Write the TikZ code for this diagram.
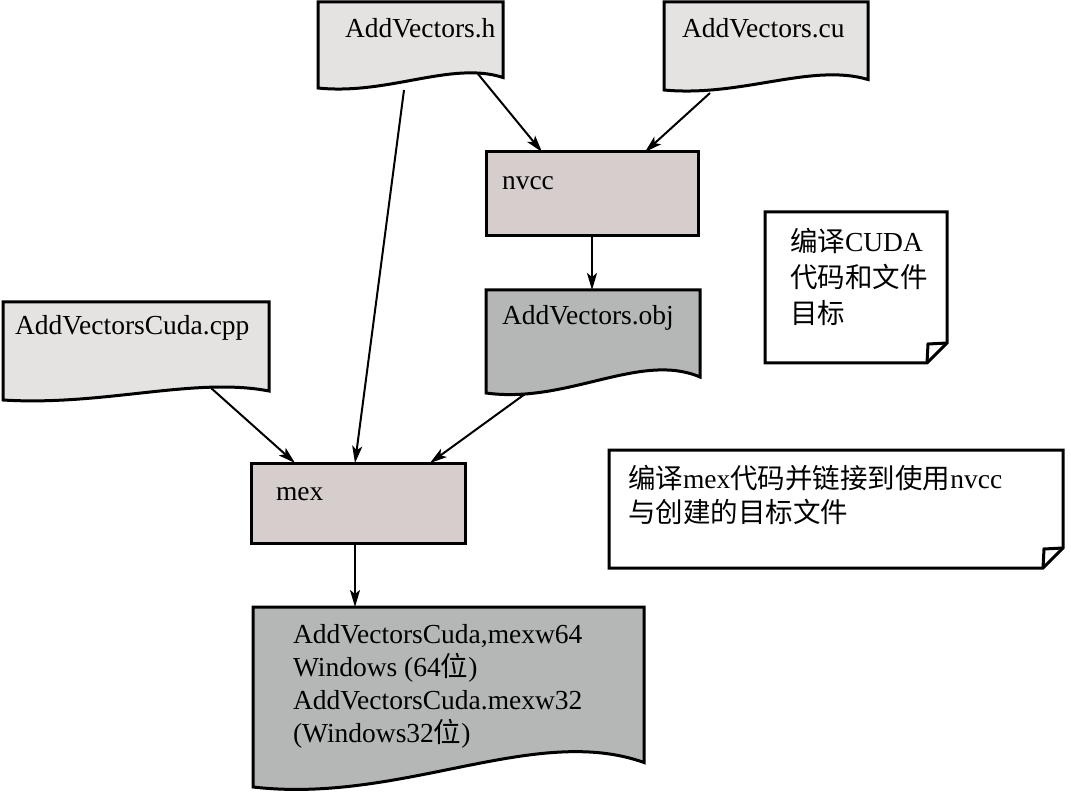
\documentclass[tikz,border=0pt]{standalone}
\usepackage{fontspec}
\setmainfont{Liberation Serif}
\newfontfamily\cjk{Noto Sans CJK SC}
\newcommand\zh[1]{{\cjk #1}}
\newcommand\txtlines[1]{\begin{tabular}[t]{@{}l@{}}#1\end{tabular}}
\usetikzlibrary{arrows.meta,calc}
\definecolor{docA}{RGB}{229,227,226}
\definecolor{procB}{RGB}{214,206,205}
\definecolor{docC}{RGB}{181,182,182}
\tikzset{
  geom/.style={draw=none, inner sep=0pt, outer sep=0pt, rectangle},
  shapeline/.style={draw=black, line width=3pt, line join=miter},
  procbox/.style={rectangle, shapeline, fill=procB, inner sep=0pt, outer sep=0pt},
  lbl/.style={inner sep=0pt, outer sep=0pt, anchor=base west, font=\fontsize{27.5}{33}\selectfont},
  arr/.style={line width=2pt, -{Stealth[length=17pt,width=10pt,inset=4pt]}},
}
% document shape with wavy bottom: node, width, amplitude, fill
\newcommand\docshape[4]{%
  \path[shapeline, fill=#4]
    (#1.north west) -- (#1.north east) -- ([yshift={#3*0.5pt}]#1.south east)
    .. controls ([xshift={-#2*0.28pt}, yshift={#3*1.3pt}]#1.south east)
    and ([xshift={#2*0.38pt}, yshift={-#3*0.35pt}]#1.south west)
    .. (#1.south west) -- cycle;}
% note shape with folded corner
\newcommand\noteshape[1]{%
  \path[shapeline, fill=white]
    (#1.north west) -- (#1.north east) -- ([yshift=20pt]#1.south east)
    -- ([xshift=-20pt]#1.south east) -- (#1.south west) -- cycle;
  \path[shapeline]
    ([xshift=-20pt]#1.south east) -- ([xshift=-19pt,yshift=19pt]#1.south east)
    -- ([yshift=20pt]#1.south east);}
\begin{document}
\begin{tikzpicture}[x=1pt,y=-1pt]
\useasboundingbox[fill=white] (0,0) rectangle (1071,799);

% geometry of shapes
\node[geom, minimum width=185pt, minimum height=86pt] (h)   at (410.5,45) {};
\node[geom, minimum width=204pt, minimum height=88pt] (cu)  at (766,46) {};
\node[geom, minimum width=214pt, minimum height=103pt] (obj) at (593,341.5) {};
\node[geom, minimum width=266pt, minimum height=98pt] (cpp) at (136,351) {};
\node[geom, minimum width=391pt, minimum height=180pt] (out) at (448.5,697) {};
\node[geom, minimum width=182pt, minimum height=151pt] (n1) at (856,287.5) {};
\node[geom, minimum width=454pt, minimum height=118pt] (n2) at (836,509) {};

\docshape{h}{185}{21}{docA}
\docshape{cu}{204}{21}{docA}
\docshape{obj}{214}{32}{docC}
\docshape{cpp}{266}{18}{docA}
\docshape{out}{391}{49}{docC}
\noteshape{n1}
\noteshape{n2}

\node[procbox, minimum width=212pt, minimum height=84pt] (nvcc) at (592,194) {};
\node[procbox, minimum width=214pt, minimum height=80pt] (mex) at (358,503) {};

% texts
\node[lbl] (h-t)    at (345,38)  {AddVectors.h};
\node[lbl] (cu-t)   at (682,38)  {AddVectors.cu};
\node[lbl] (nvcc-t) at (502,190) {nvcc};
\node[lbl] (obj-t)  at (502,325) {AddVectors.obj};
\node[lbl] (cpp-t)  at (15,335)  {AddVectorsCuda.cpp};
\node[lbl] (mex-t)  at (276,500) {mex};
\node[lbl] (out-t)  at (293,643) {\txtlines{AddVectorsCuda,mexw64\\ Windows (64\zh{位})\\ AddVectorsCuda.mexw32\\ (Windows32\zh{位})}};
\node[lbl, font=\fontsize{27.5}{36}\selectfont] (n1-t) at (790,252)
  {\txtlines{\zh{编译}CUDA\\ \zh{代码和文件}\\ \zh{目标}}};
\node[lbl, font=\fontsize{27.5}{34}\selectfont] (n2-t) at (628,488)
  {\txtlines{\zh{编译}mex\zh{代码并链接到使用}nvcc\\ \zh{与创建的目标文件}}};

% connector start points on the wavy edges
\coordinate (hA)   at ([xshift=-6.5pt,yshift=-2pt]h.south);
\coordinate (hB)   at ([xshift=67.5pt,yshift=14pt]h.south);
\coordinate (cuA)  at ([xshift=-56pt,yshift=-3pt]cu.south);
\coordinate (cppA) at ([xshift=75pt,yshift=12pt]cpp.south);
\coordinate (objA) at ([xshift=-68pt,yshift=-1pt]obj.south);

\draw[arr] (hA) -- ([xshift=-3pt]mex.north);
\draw[arr] (hB) -- ([xshift=-50pt]nvcc.north);
\draw[arr] (cuA) -- ([xshift=53pt]nvcc.north);
\draw[arr] (nvcc.south) -- (nvcc.south |- obj.north);
\draw[arr] (cppA) -- ([xshift=-63pt]mex.north);
\draw[arr] (objA) -- ([xshift=72pt]mex.north);
\draw[arr] ([xshift=-3pt]mex.south) -- ([xshift=-3pt]mex.south |- out.north);
\end{tikzpicture}
\end{document}
